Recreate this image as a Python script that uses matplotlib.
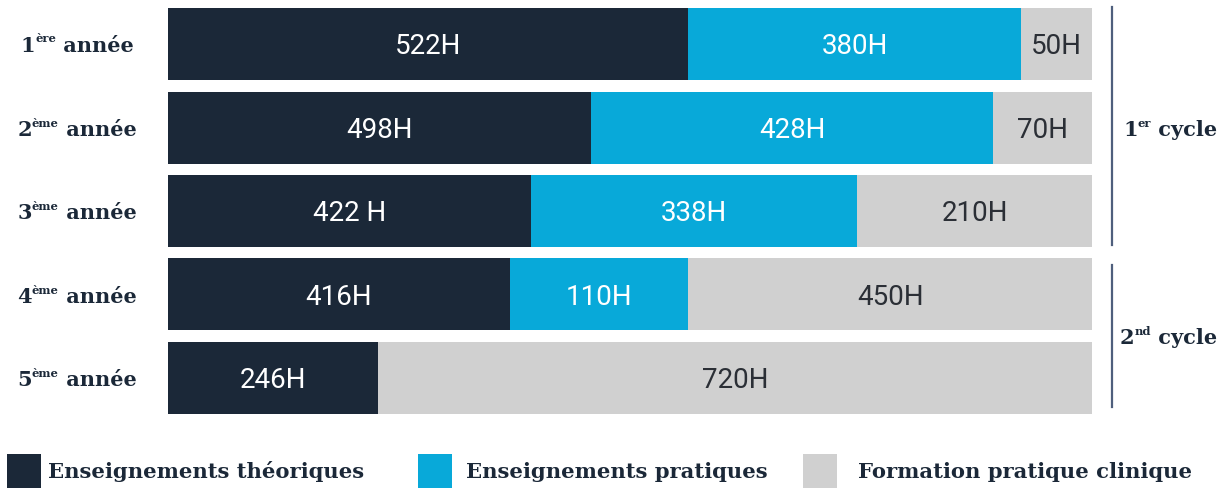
import matplotlib.pyplot as plt
import matplotlib.transforms as mtransforms
from matplotlib.patches import Rectangle

# data (shares = visible share of each bar, in %)
years = ['1', '2', '3', '4', '5']
year_sups = ['ère', 'ème', 'ème', 'ème', 'ème']
theo_share = [56.3, 45.8, 39.3, 37.0, 22.7]
prat_share = [36.0, 43.5, 35.3, 19.3, 0.0]
clin_share = [7.7, 10.7, 25.4, 43.7, 77.3]
theo_labels = ['522H', '498H', '422 H', '416H', '246H']
prat_labels = ['380H', '428H', '338H', '110H', '']
clin_labels = ['50H', '70H', '210H', '450H', '720H']
series_names = ['Enseignements théoriques', 'Enseignements pratiques', 'Formation pratique clinique']
cycle_names = [('1', 'er', ' cycle'), ('2', 'nd', ' cycle')]

DARK = '#1b2838'
BLUE = '#08a9d9'
GREY = '#d0d0d0'
colors = [DARK, BLUE, GREY]
label_colors = ['white', 'white', '#2b2f36']

W, H = 1225, 489
fig = plt.figure(figsize=(W / 100, H / 100), dpi=100)
# pixel transform, y pointing down like the image
px = mtransforms.Affine2D().scale(1 / W, -1 / H).translate(0, 1) + fig.transFigure

ax = fig.add_axes([168 / W, 1 - 420.5 / H, 924 / W, 416.9 / H])
ax.set_xlim(0, 100)
ax.set_ylim(4.5, -0.5)
ax.axis('off')

ypos = list(range(len(years)))
left = [0.0] * len(years)
for shares, labels, col, lcol in zip([theo_share, prat_share, clin_share],
                                     [theo_labels, prat_labels, clin_labels],
                                     colors, label_colors):
    ax.barh(ypos, shares, left=left, height=0.865, color=col, linewidth=0)
    for i, (s, lab) in enumerate(zip(shares, labels)):
        if s > 0 and lab:
            ax.text(left[i] + s / 2, i + 0.02, lab, ha='center', va='center',
                    color=lcol, fontsize=20, family='Roboto')
    left = [l + s for l, s in zip(left, shares)]

renderer = fig.canvas.get_renderer()
SLAB = 'DejaVu Serif'


def sup_text(x, y, base, sup, rest, size, anchor='center'):
    kw = dict(transform=px, va='center', ha='left', color=DARK,
              family=SLAB, fontweight='bold')
    parts = [(base, size, 0), (sup, size * 0.55, -size * 0.45), (rest, size, 0)]
    widths = []
    for s, fs, _ in parts:
        t = fig.text(0, 0, s, fontsize=fs, **kw)
        widths.append(t.get_window_extent(renderer).width)
        t.remove()
    total = sum(widths)
    x0 = x - total / 2 if anchor == 'center' else x
    for (s, fs, dy), w in zip(parts, widths):
        fig.text(x0, y + dy, s, fontsize=fs, **kw)
        x0 += w


row_centers = [45.5, 130, 213, 297, 380]
for yr, sp, yc in zip(years, year_sups, row_centers):
    sup_text(77, yc, yr, sp, ' année', 15)

# cycle brackets
line_spans = [(8, 246), (266, 408)]
cycle_y = [130, 338]
cycle_x = [1123, 1120]
for (y0, y1), (b, s, r), yc, xc in zip(line_spans, cycle_names, cycle_y, cycle_x):
    fig.add_artist(plt.Line2D([1112, 1112], [y0, y1], transform=px,
                              color='#4f5f7d', lw=1.6))
    sup_text(xc, yc, b, s, r, 15, anchor='left')

# legend
leg_sq_x = [7, 418, 803]
leg_txt_x = [48, 466, 858]
for name, col, sx, tx in zip(series_names, colors, leg_sq_x, leg_txt_x):
    fig.add_artist(Rectangle((sx, 455), 34, 40, transform=px, color=col, lw=0))
    fig.text(tx, 472, name, transform=px, va='center', ha='left', color=DARK,
             family=SLAB, fontweight='bold', fontsize=15.2)

fig.savefig('out.png', dpi=100)
